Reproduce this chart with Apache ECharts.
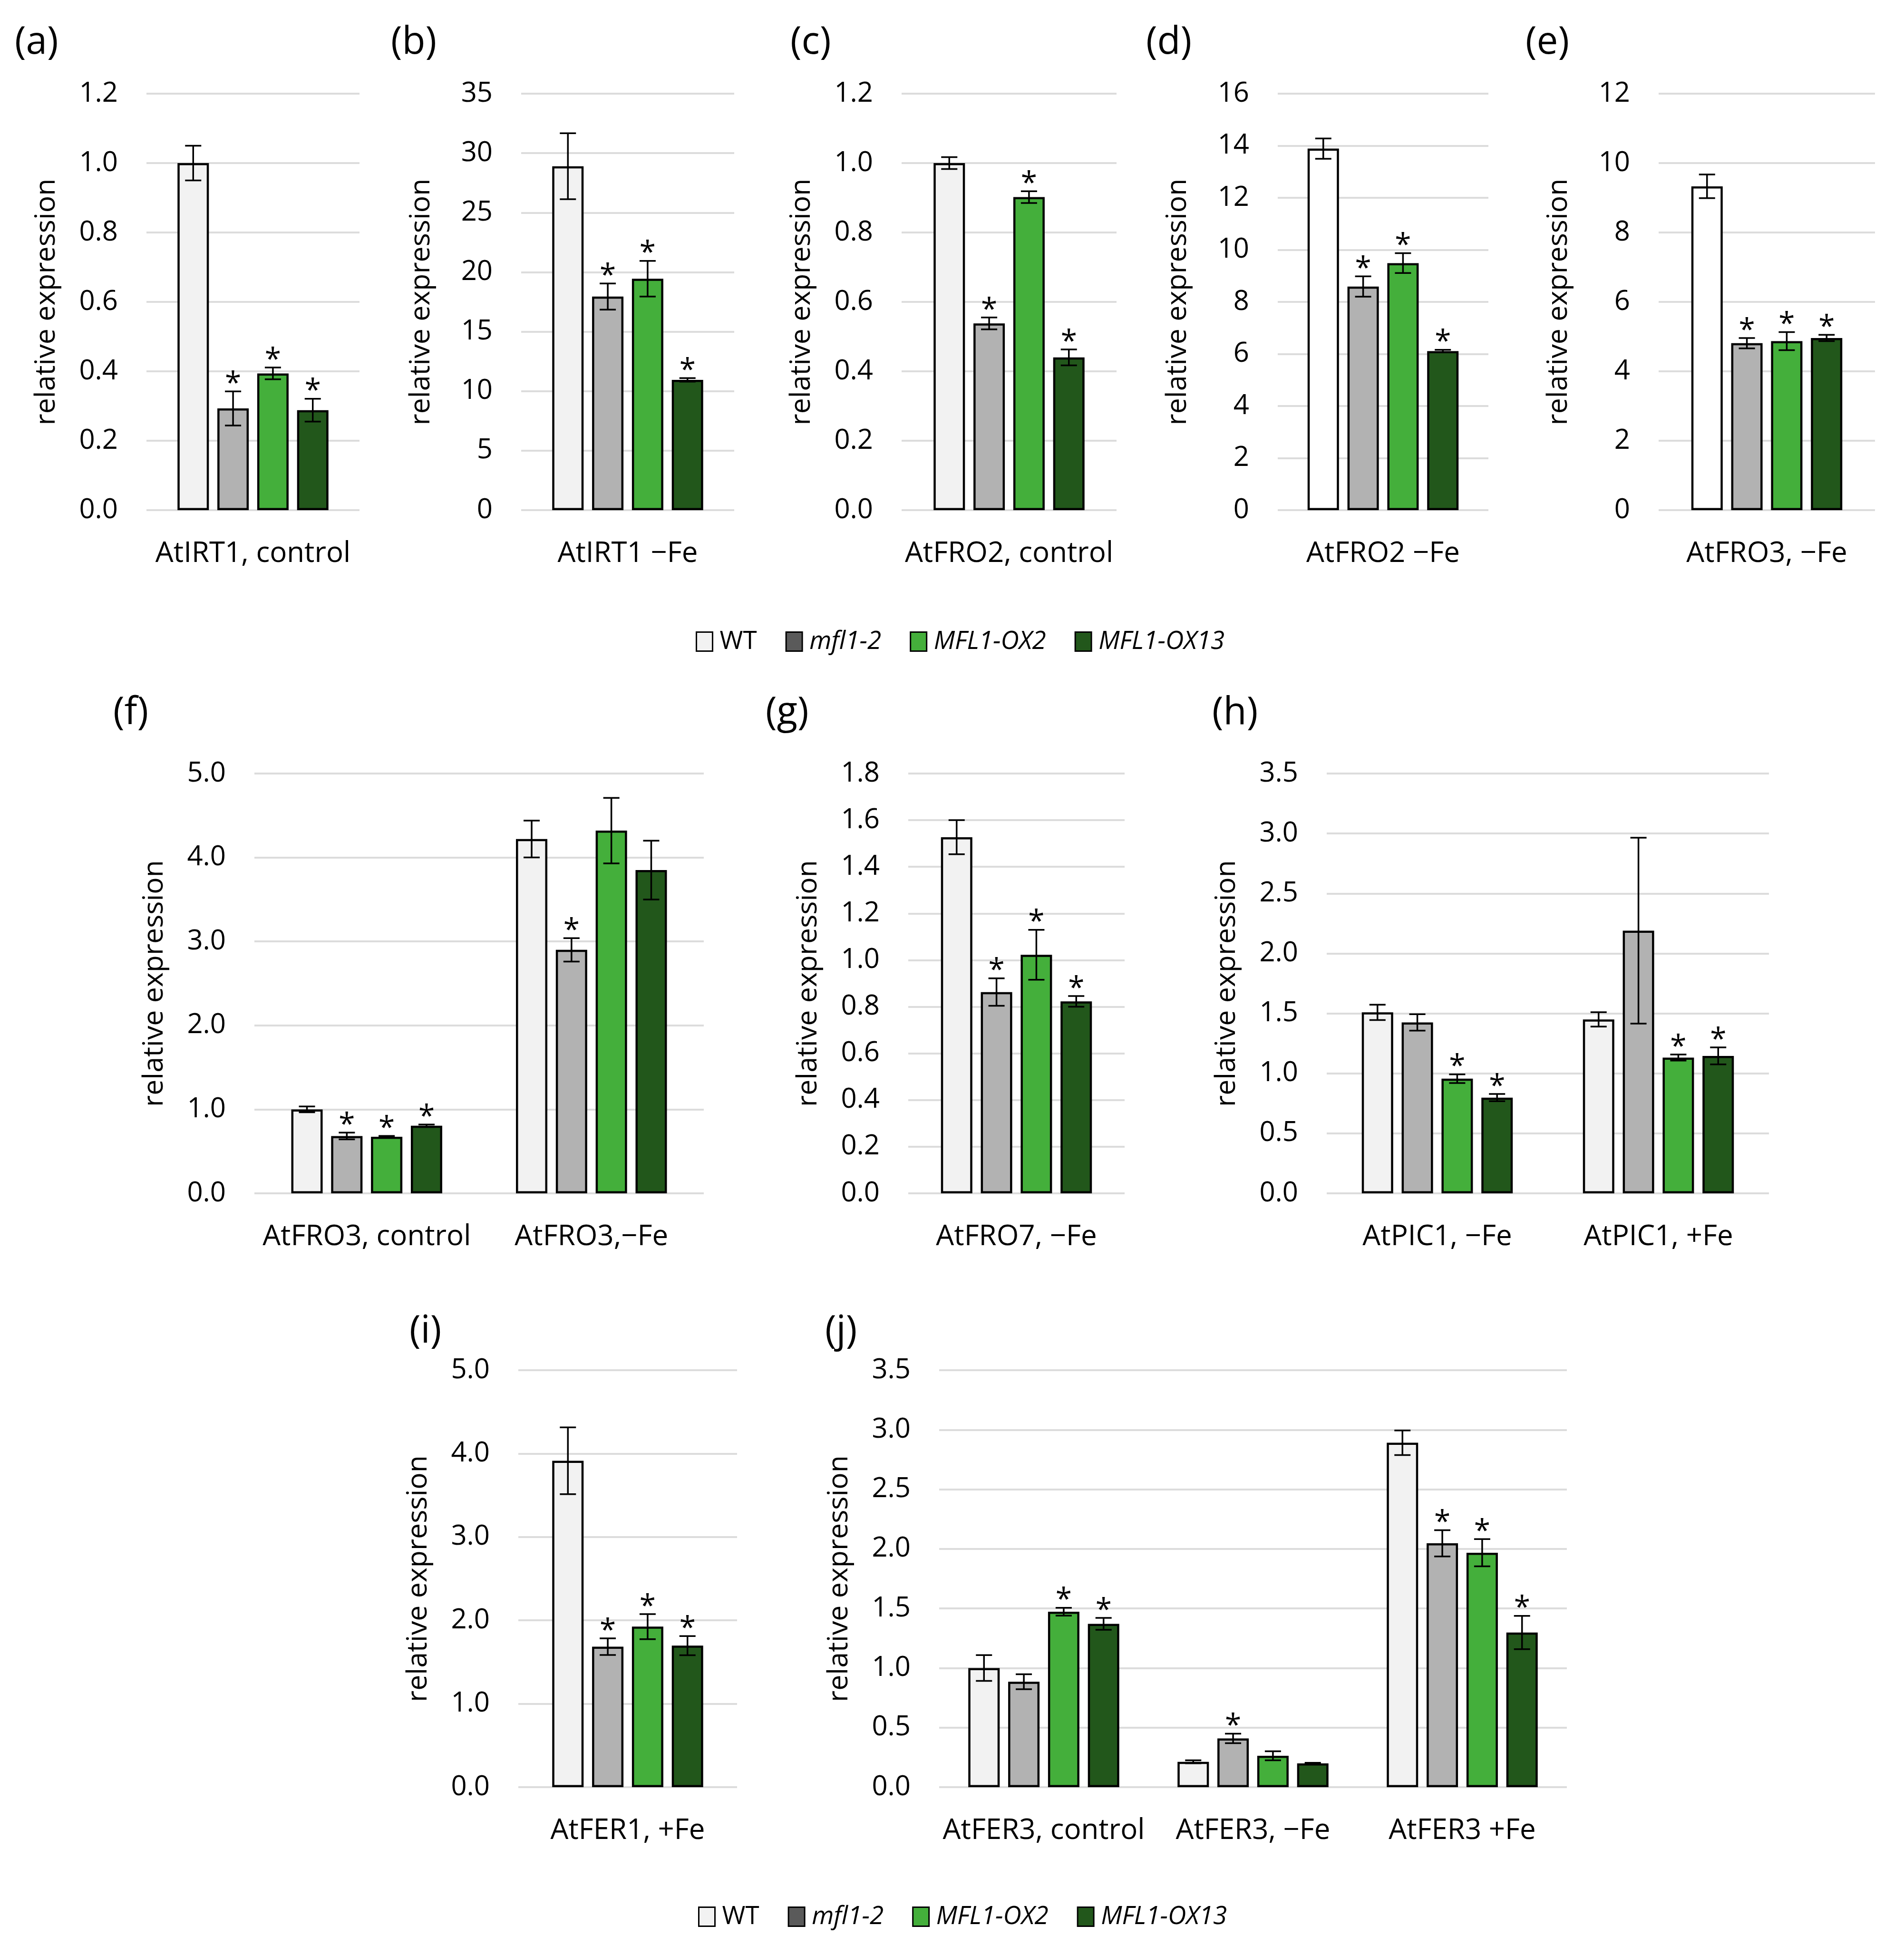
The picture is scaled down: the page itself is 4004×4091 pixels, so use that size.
<!DOCTYPE html>
<html><head><meta charset="utf-8">
<script src="https://cdn.jsdelivr.net/npm/echarts@6/dist/echarts.min.js"></script>
<style>html,body{margin:0;padding:0;background:#fff}#c{width:4004px;height:4091px}</style>
</head><body><div id="c"></div><script>
// ---------- data ----------
const genotypes = ['WT', 'mfl1-2', 'MFL1-OX2', 'MFL1-OX13'];

// each row of mean/err/star = one category, columns = WT, mfl1-2, MFL1-OX2, MFL1-OX13
const catsA = ['AtIRT1, control'];
const meanA = [[1.00, 0.293, 0.394, 0.288]];
const errA  = [[0.05, 0.049, 0.017, 0.033]];
const starA = [[0, 1, 1, 1]];

const catsB = ['AtIRT1 \u2212Fe'];
const meanB = [[28.9, 17.95, 19.45, 10.95]];
const errB  = [[2.77, 1.1, 1.5, 0.15]];
const starB = [[0, 1, 1, 1]];

const catsC = ['AtFRO2, control'];
const meanC = [[1.00, 0.538, 0.902, 0.44]];
const errC  = [[0.017, 0.017, 0.017, 0.023]];
const starC = [[0, 1, 1, 1]];

const catsD = ['AtFRO2 \u2212Fe'];
const meanD = [[13.89, 8.59, 9.49, 6.11]];
const errD  = [[0.39, 0.39, 0.38, 0.05]];
const starD = [[0, 1, 1, 1]];

const catsE = ['AtFRO3, \u2212Fe'];
const meanE = [[9.33, 4.81, 4.87, 4.96]];
const errE  = [[0.34, 0.15, 0.26, 0.09]];
const starE = [[0, 1, 1, 1]];

const catsF = ['AtFRO3, control', 'AtFRO3,\u2212Fe'];
const meanF = [[1.00, 0.683, 0.674, 0.805], [4.22, 2.90, 4.32, 3.85]];
const errF  = [[0.035, 0.04, 0.01, 0.015], [0.22, 0.14, 0.39, 0.35]];
const starF = [[0, 1, 1, 1], [0, 1, 0, 0]];

const catsG = ['AtFRO7, \u2212Fe'];
const meanG = [[1.527, 0.863, 1.023, 0.823]];
const errG  = [[0.073, 0.059, 0.107, 0.023]];
const starG = [[0, 1, 1, 1]];

const catsH = ['AtPIC1, \u2212Fe', 'AtPIC1, +Fe'];
const meanH = [[1.509, 1.425, 0.956, 0.798], [1.45, 2.19, 1.132, 1.146]];
const errH  = [[0.064, 0.068, 0.036, 0.03], [0.06, 0.775, 0.025, 0.071]];
const starH = [[0, 0, 1, 1], [0, 0, 1, 1]];

const catsI = ['AtFER1, +Fe'];
const meanI = [[3.914, 1.685, 1.925, 1.697]];
const errI  = [[0.40, 0.10, 0.15, 0.115]];
const starI = [[0, 1, 1, 1]];

const catsJ = ['AtFER3, control', 'AtFER3, \u2212Fe', 'AtFER3 +Fe'];
const meanJ = [[1.0, 0.885, 1.473, 1.371], [0.213, 0.409, 0.263, 0.20], [2.891, 2.047, 1.968, 1.298]];
const errJ  = [[0.108, 0.063, 0.033, 0.05], [0.012, 0.04, 0.038, 0.005], [0.103, 0.11, 0.114, 0.14]];
const starJ = [[0, 0, 1, 1], [0, 1, 0, 0], [0, 1, 1, 1]];

// y-axis tick settings: [max, interval, decimals]
const ticksA = [1.2, 0.2, 1];
const ticksB = [35, 5, 0];
const ticksC = [1.2, 0.2, 1];
const ticksD = [16, 2, 0];
const ticksE = [12, 2, 0];
const ticksF = [5, 1, 1];
const ticksG = [1.8, 0.2, 1];
const ticksH = [3.5, 0.5, 1];
const ticksI = [5, 1, 1];
const ticksJ = [3.5, 0.5, 1];

const panelLetters = ['(a)', '(b)', '(c)', '(d)', '(e)', '(f)', '(g)', '(h)', '(i)', '(j)'];
const yTitle = 'relative expression';

// ---------- styling / layout ----------
const FONT = '"Open Sans", "Noto Sans", sans-serif';
const BAR_COLORS = ['#f2f2f2', '#b2b2b2', '#44af3b', '#22571b'];
const LEGEND_COLORS = ['#f2f2f2', '#5a5a5a', '#44af3b', '#22571b'];
const BAR_W = 66, BAR_GAP = 0.27, CAP = 34;

const panels = [
  {cats: catsA, mean: meanA, err: errA, star: starA, ticks: ticksA, box: [308, 756, 197, 1073], letter: [31, 50]},
  {cats: catsB, mean: meanB, err: errB, star: starB, ticks: ticksB, box: [1096, 1544, 197, 1073], letter: [822, 50]},
  {cats: catsC, mean: meanC, err: errC, star: starC, ticks: ticksC, box: [1896, 2348, 197, 1073], letter: [1662, 50]},
  {cats: catsD, mean: meanD, err: errD, star: starD, ticks: ticksD, box: [2687, 3130, 197, 1073], letter: [2410, 50], wt: '#ffffff'},
  {cats: catsE, mean: meanE, err: errE, star: starE, ticks: ticksE, box: [3488, 3943, 197, 1073], letter: [3208, 50], wt: '#ffffff'},
  {cats: catsF, mean: meanF, err: errF, star: starF, ticks: ticksF, box: [535, 1480, 1627, 2510], letter: [238, 1460]},
  {cats: catsG, mean: meanG, err: errG, star: starG, ticks: ticksG, box: [1910, 2365, 1627, 2510], letter: [1610, 1460]},
  {cats: catsH, mean: meanH, err: errH, star: starH, ticks: ticksH, box: [2790, 3720, 1627, 2510], letter: [2549, 1460]},
  {cats: catsI, mean: meanI, err: errI, star: starI, ticks: ticksI, box: [1090, 1550, 2882, 3759], letter: [861, 2761]},
  {cats: catsJ, mean: meanJ, err: errJ, star: starJ, ticks: ticksJ, box: [1975, 3295, 2882, 3759], letter: [1735, 2761]}
];

function renderErr(params, api) {
  const ci = api.value(0), k = api.value(1), m = api.value(2), e = api.value(3), s = api.value(4);
  const c = api.coord([ci, m]);
  const step = BAR_W * (1 + BAR_GAP);
  const x = c[0] + (k - 1.5) * step;
  const yTop = api.coord([ci, m + e])[1];
  const yBot = api.coord([ci, m - e])[1];
  const hw = CAP / 2;
  const st = {stroke: '#000', lineWidth: 3.5};
  const children = [
    {type: 'line', shape: {x1: x, y1: yTop, x2: x, y2: yBot}, style: st},
    {type: 'line', shape: {x1: x - hw, y1: yTop, x2: x + hw, y2: yTop}, style: st},
    {type: 'line', shape: {x1: x - hw, y1: yBot, x2: x + hw, y2: yBot}, style: st}
  ];
  if (s) children.push({type: 'text', style: {text: '*', x: x, y: yTop - 15, align: 'center', verticalAlign: 'middle', fontSize: 62, fontFamily: FONT, fill: '#000'}});
  return {type: 'group', children: children};
}

const grid = [], xAxis = [], yAxis = [], series = [], title = [];
panels.forEach((p, i) => {
  const [l, r, t, b] = p.box;
  grid.push({left: l, top: t, width: r - l, height: b - t, containLabel: false});
  xAxis.push({
    type: 'category', gridIndex: i, data: p.cats,
    axisLine: {show: false}, axisTick: {show: false},
    axisLabel: {fontSize: 60, fontFamily: FONT, color: '#000', margin: 62, interval: 0}
  });
  const [mx, step, dec] = p.ticks;
  yAxis.push({
    type: 'value', gridIndex: i, min: 0, max: mx, interval: step,
    axisLine: {show: false}, axisTick: {show: false},
    splitLine: {show: true, lineStyle: {color: '#dcdcdc', width: 4}},
    axisLabel: {fontSize: 58, fontFamily: FONT, color: '#000', margin: 60, formatter: v => v.toFixed(dec)},
    name: yTitle, nameLocation: 'middle', nameRotate: 90, nameGap: 180,
    nameTextStyle: {fontSize: 59, fontFamily: FONT, color: '#000'}
  });
  genotypes.forEach((g, k) => {
    series.push({
      type: 'bar', name: g, xAxisIndex: i, yAxisIndex: i,
      data: p.mean.map(row => row[k]),
      barWidth: BAR_W, barGap: (BAR_GAP * 100) + '%',
      itemStyle: {color: (k === 0 && p.wt) ? p.wt : BAR_COLORS[k], borderColor: '#000', borderWidth: 4.5},
      emphasis: {disabled: true}, z: 2
    });
  });
  const errData = [];
  p.mean.forEach((row, ci) => row.forEach((m, k) => errData.push([ci, k, m, p.err[ci][k], p.star[ci][k]])));
  series.push({
    type: 'custom', name: 'error', xAxisIndex: i, yAxisIndex: i, coordinateSystem: 'cartesian2d',
    data: errData, encode: {x: 0, y: 2}, renderItem: renderErr, z: 5, silent: true, clip: false
  });
  title.push({text: panelLetters[i], left: p.letter[0], top: p.letter[1], padding: 0,
    textStyle: {fontSize: 80, fontWeight: 'normal', fontFamily: FONT, color: '#000'}});
});

function legendCfg(left, top) {
  return {
    left: left, top: top, orient: 'horizontal', itemWidth: 34, itemHeight: 40, itemGap: 60,
    icon: 'rect', selectedMode: false,
    data: genotypes.map((g, i) => ({name: g, itemStyle: {color: LEGEND_COLORS[i], borderColor: '#000', borderWidth: 3}})),
    formatter: n => n === 'WT' ? '{n|' + n + '}' : '{i|' + n + '}',
    textStyle: {padding: [0, 0, 0, 10], rich: {
      n: {fontSize: 53, fontFamily: FONT, color: '#000'},
      i: {fontSize: 53, fontFamily: FONT, fontStyle: 'italic', color: '#000'}
    }}
  };
}

const chart = echarts.init(document.getElementById('c'), null, {renderer: 'canvas'});
chart.setOption({
  backgroundColor: '#ffffff',
  animation: false,
  title: title,
  legend: [legendCfg(1458, 1318), legendCfg(1463, 4000)],
  grid: grid, xAxis: xAxis, yAxis: yAxis, series: series
});
</script></body></html>
